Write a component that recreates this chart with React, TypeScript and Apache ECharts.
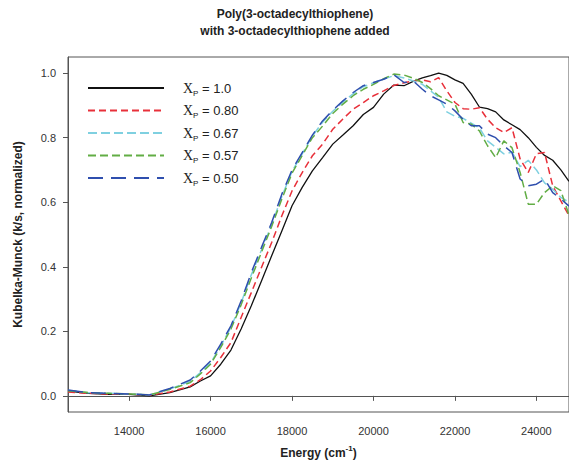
import React, { useEffect, useRef } from "react";
import * as echarts from "echarts";

const energy = [
  12500, 13000, 13500, 14000, 14500, 15000, 15500, 15750, 16000, 16250, 16500, 16750,
  17000, 17250, 17500, 17750, 18000, 18250, 18500, 18750, 19000, 19250, 19500, 19750,
  20000, 20250, 20500, 20750, 21000, 21200, 21400, 21600, 21800, 22000, 22200, 22400,
  22600, 22800, 23000, 23200, 23400, 23600, 23800, 24000, 24200, 24400, 24600, 24800,
];

const xp100 = [
  0.015, 0.008, 0.005, 0.005, 0.0, 0.01, 0.028, 0.046, 0.062, 0.098, 0.142, 0.207,
  0.279, 0.356, 0.434, 0.511, 0.589, 0.646, 0.697, 0.738, 0.78, 0.808, 0.837, 0.872,
  0.894, 0.935, 0.963, 0.961, 0.976, 0.985, 0.992, 1.0, 0.993, 0.979, 0.968, 0.935,
  0.895, 0.89, 0.88, 0.855, 0.84, 0.825, 0.8, 0.77, 0.745, 0.73, 0.7, 0.665,
];
const xp080 = [
  0.012, 0.008, 0.006, 0.006, 0.002, 0.012, 0.03, 0.05, 0.077, 0.119, 0.165, 0.243,
  0.32, 0.398, 0.475, 0.558, 0.635, 0.692, 0.744, 0.78, 0.826, 0.858, 0.888, 0.909,
  0.93, 0.945, 0.962, 0.97, 0.976, 0.979, 0.973, 0.986, 0.945, 0.909, 0.89, 0.888,
  0.893, 0.857, 0.831, 0.816, 0.831, 0.734, 0.692, 0.75, 0.754, 0.651, 0.604, 0.558,
];
const xp067 = [
  0.017, 0.01, 0.008, 0.006, 0.003, 0.021, 0.045, 0.072, 0.102, 0.155, 0.212, 0.288,
  0.375, 0.452, 0.53, 0.618, 0.695, 0.75, 0.805, 0.848, 0.882, 0.91, 0.936, 0.958,
  0.97, 0.982, 0.992, 0.985, 0.975, 0.965, 0.945, 0.925, 0.88, 0.866, 0.86, 0.845,
  0.83, 0.79, 0.77, 0.75, 0.755, 0.71, 0.73, 0.7, 0.66, 0.64, 0.615, 0.6,
];
const xp057 = [
  0.016, 0.01, 0.008, 0.006, 0.003, 0.02, 0.041, 0.068, 0.098, 0.15, 0.207, 0.282,
  0.365, 0.445, 0.525, 0.61, 0.69, 0.745, 0.8, 0.836, 0.875, 0.904, 0.93, 0.95,
  0.965, 0.983, 0.997, 0.994, 0.983, 0.971, 0.952, 0.93, 0.917, 0.904, 0.847, 0.842,
  0.821, 0.775, 0.738, 0.79, 0.769, 0.692, 0.594, 0.594, 0.63, 0.651, 0.636, 0.56,
];
const xp050 = [
  0.018, 0.01, 0.008, 0.006, 0.003, 0.023, 0.049, 0.077, 0.108, 0.16, 0.217, 0.294,
  0.382, 0.46, 0.537, 0.625, 0.7, 0.754, 0.808, 0.852, 0.885, 0.914, 0.94, 0.961,
  0.971, 0.981, 0.995, 0.971, 0.973, 0.95, 0.93, 0.917, 0.904, 0.883, 0.857, 0.837,
  0.837, 0.811, 0.8, 0.775, 0.754, 0.672, 0.651, 0.656, 0.672, 0.63, 0.61, 0.588,
];

const seriesNames = ["1.0", "0.80", "0.67", "0.57", "0.50"];
const seriesValues = [xp100, xp080, xp067, xp057, xp050];
const seriesColors = ["#111111", "#e8303a", "#7fd0e0", "#62ad45", "#2f4fae"];
const seriesDashes: (number[] | "solid")[] = ["solid", [7, 4], [9, 4], [8, 4], [15, 8]];

const xTicks = [14000, 16000, 18000, 20000, 22000, 24000];
const yTicks = [0, 0.2, 0.4, 0.6, 0.8, 1.0];

const sans = "'Liberation Sans', Arial, sans-serif";

export default function App() {
  const ref = useRef<HTMLDivElement>(null);
  useEffect(() => {
    if (!ref.current) return;
    const chart = echarts.init(ref.current, undefined, { renderer: "svg" });
    const series = seriesNames.map((name, i) => ({
      name,
      type: "line",
      showSymbol: false,
      symbol: "none",
      data: energy.map((e, j) => [e, seriesValues[i][j]]),
      lineStyle: {
        color: seriesColors[i],
        width: i === 0 ? 1.3 : 1.5,
        type: seriesDashes[i],
      },
      itemStyle: { color: seriesColors[i] },
    }));
    chart.setOption({
      animation: false,
      backgroundColor: "#ffffff",
      title: {
        text: "Poly(3-octadecylthiophene)\nwith 3-octadecylthiophene added",
        left: 290,
        top: 0,
        textAlign: "center",
        textStyle: {
          fontFamily: sans,
          fontSize: 12,
          fontWeight: "bold",
          color: "#222",
          lineHeight: 17,
        },
      },
      legend: {
        orient: "vertical",
        left: 82,
        top: 76,
        itemWidth: 76,
        itemHeight: 14,
        itemGap: 6.5,
        data: seriesNames,
        itemStyle: { opacity: 0 },
        formatter: (n: string) => `{x|X}{p|P}{t| = ${n}}`,
        textStyle: {
          padding: [0, 0, 0, 14],
          rich: {
            x: { fontFamily: "'Liberation Serif', serif", fontSize: 14, color: "#222", lineHeight: 18 },
            p: { fontFamily: sans, fontSize: 8, color: "#222", verticalAlign: "bottom", lineHeight: 8 },
            t: { fontFamily: sans, fontSize: 13, color: "#222", lineHeight: 18 },
          },
        },
      },
      grid: {
        left: 68,
        top: 57,
        right: -2,
        bottom: 56,
        show: true,
        borderColor: "#555",
        borderWidth: 1,
      },
      xAxis: {
        type: "value",
        min: 12500,
        max: 24800,
        name: "{a|Energy (cm}{s|-1}{a|)}",
        nameLocation: "middle",
        nameGap: 32,
        nameTextStyle: {
          rich: {
            a: { fontFamily: sans, fontSize: 12, fontWeight: "bold", color: "#222", lineHeight: 18 },
            s: { fontFamily: sans, fontSize: 8, fontWeight: "bold", color: "#222", verticalAlign: "top", lineHeight: 8 },
          },
        },
        axisLine: { show: true, lineStyle: { color: "#555", width: 1 } },
        axisTick: { show: true, inside: false, length: 5, customValues: xTicks, lineStyle: { color: "#555" } },
        axisLabel: {
          customValues: xTicks,
          margin: 13,
          fontFamily: sans,
          fontSize: 11,
          color: "#333",
          formatter: (v: number) => String(v),
        },
        splitLine: { show: false },
      },
      yAxis: {
        type: "value",
        min: -0.05,
        max: 1.05,
        name: "Kubelka-Munck (k/s, normalized)",
        nameLocation: "middle",
        nameGap: 44,
        nameTextStyle: { fontFamily: sans, fontSize: 12, fontWeight: "bold", color: "#222" },
        axisLine: { show: true, lineStyle: { color: "#555", width: 1 } },
        axisTick: { show: true, inside: false, length: 5, customValues: yTicks, lineStyle: { color: "#555" } },
        axisLabel: {
          customValues: yTicks,
          margin: 12,
          fontFamily: sans,
          fontSize: 11,
          color: "#333",
          formatter: (v: number) => v.toFixed(1),
        },
        splitLine: { show: false },
      },
      series,
    });
    return () => chart.dispose();
  }, []);
  return (
    <div
      ref={ref}
      style={{ position: "fixed", left: 0, top: 0, width: 569, height: 468 }}
    />
  );
}
